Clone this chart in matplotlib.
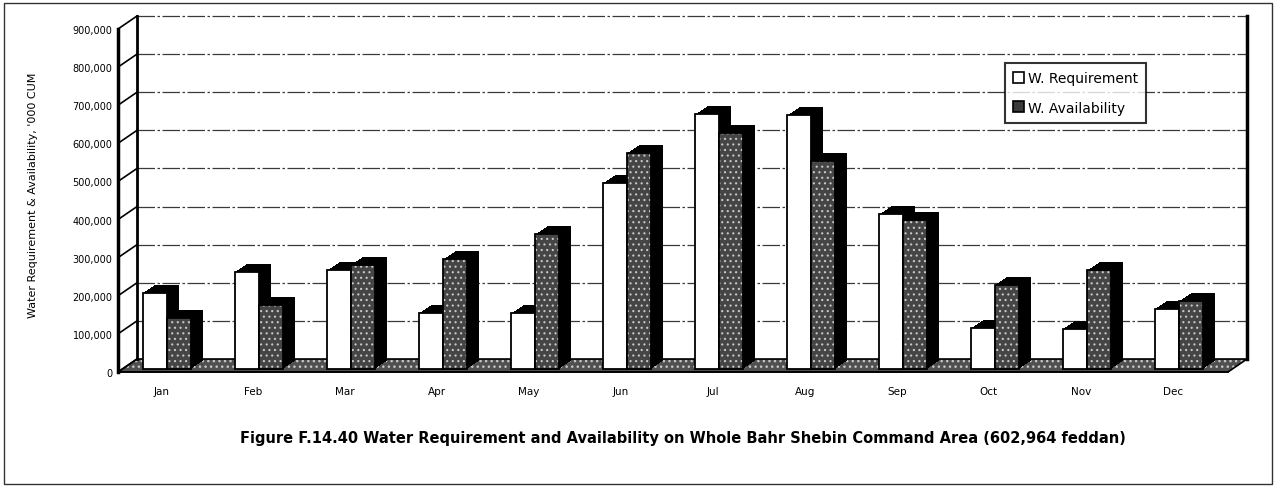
import numpy as np
import matplotlib
matplotlib.use('Agg')
import matplotlib.pyplot as plt
from matplotlib.transforms import ScaledTranslation, IdentityTransform
from matplotlib.patches import Patch, Polygon, Rectangle
from matplotlib.lines import Line2D

# data ('000 CUM)
months = ['Jan', 'Feb', 'Mar', 'Apr', 'May', 'Jun', 'Jul', 'Aug', 'Sep', 'Oct', 'Nov', 'Dec']
requirement = [200000, 255000, 259000, 147000, 146000, 488000, 668000, 666000, 406000, 108000, 106000, 158000]
availability = [135000, 167000, 274000, 288000, 353000, 567000, 620000, 546000, 390000, 221000, 259000, 178000]
yticks = np.arange(0, 900001, 100000)

caption = 'Figure F.14.40 Water Requirement and Availability on Whole Bahr Shebin Command Area (602,964 feddan)'
ylabel = "Water Requirement & Availability, '000 CUM"

W, H = 1277, 489
fig = plt.figure(figsize=(W / 100, H / 100), dpi=100)
ax = fig.add_axes([118 / W, (H - 373) / H, (1228 - 118) / W, 343 / H])
x0, x1 = -0.47, 11.6
ax.set_xlim(x0, x1)
ax.set_ylim(0, 900000)


def shift(dx, dy):
    # data transform moved by a few pixels (fake 3D depth)
    return ax.transData + ScaledTranslation(dx / fig.dpi, dy / fig.dpi, fig.dpi_scale_trans)


DX, DY = 19, 13  # floor / wall depth in px
back = shift(DX, DY)

# back wall gridlines
ax.hlines(yticks[1:], x0, x1, transform=back, colors='#3a3a3a', lw=0.9,
          linestyles=(0, (14, 2, 2, 2)), zorder=1, clip_on=False)
ax.plot([x0, x0], [0, 900000], transform=back, color='black', lw=2, zorder=1, clip_on=False)
ax.plot([x1, x1], [0, 900000], transform=back, color='black', lw=2.5, zorder=1, clip_on=False)

# left wall diagonals at each tick
for v in yticks:
    p = ax.transData.transform((x0, v))
    ax.add_line(Line2D([p[0], p[0] + DX], [p[1], p[1] + DY], transform=IdentityTransform(),
                       color='black', lw=1.2, clip_on=False, zorder=1))

# floor
f0 = ax.transData.transform((x0, 0))
f1 = ax.transData.transform((x1, 0))
floor_pts = [f0, f1, f1 + [DX, DY], f0 + [DX, DY]]
ax.add_patch(Polygon(floor_pts, closed=True, transform=IdentityTransform(), facecolor='#505050',
                     edgecolor='#c8c8c8', hatch='...', lw=0, clip_on=False, zorder=0.5))
ax.add_patch(Polygon(floor_pts, closed=True, transform=IdentityTransform(), fill=False,
                     edgecolor='black', lw=1.2, clip_on=False, zorder=0.6))

# bars with 3D depth
x = np.arange(len(months))
bw = 0.26
fx, fy = 6, 3
plt.rcParams['hatch.linewidth'] = 0.8
for k in range(12, 0, -1):
    ax.bar(x - bw / 2, requirement, bw, color='black', lw=0,
           transform=shift(fx + k, fy + k * 0.667), zorder=2)
ax.bar(x - bw / 2, requirement, bw, facecolor='white', edgecolor='black', lw=1.3,
       transform=shift(fx, fy), zorder=3)
for k in range(12, 0, -1):
    ax.bar(x + bw / 2, availability, bw, color='black', lw=0,
           transform=shift(fx + k, fy + k * 0.667), zorder=4)
ax.bar(x + bw / 2, availability, bw, facecolor='#454545', edgecolor='#c8c8c8', hatch='...',
       lw=0, transform=shift(fx, fy), zorder=5)
ax.bar(x + bw / 2, availability, bw, fill=False, edgecolor='black', lw=1.3,
       transform=shift(fx, fy), zorder=5.5)

ax.set_xlim(x0, x1)
ax.set_ylim(0, 900000)

# axes styling
for s in ['top', 'right']:
    ax.spines[s].set_visible(False)
ax.spines['left'].set_linewidth(2.5)
ax.spines['bottom'].set_linewidth(1.2)
ax.set_facecolor('none')
ax.set_yticks(yticks)
ax.set_yticklabels([f'{v:,}' for v in yticks], fontsize=7)
ax.set_xticks(x)
ax.set_xticklabels(months, fontsize=7.5)
ax.tick_params(axis='y', length=0, pad=4)
ax.tick_params(axis='x', length=0, pad=10)

fig.text(33 / W, 1 - 195 / H, ylabel, rotation=90, ha='center', va='center', fontsize=8)

leg = fig.legend([Patch(facecolor='white', edgecolor='black', lw=1.2),
                  Patch(facecolor='#3a3a3a', edgecolor='black', lw=1.2)],
                 ['W. Requirement', 'W. Availability'], loc='upper left',
                 bbox_to_anchor=(1005 / W, 1 - 64 / H), frameon=True, fancybox=False,
                 edgecolor='black', fontsize=10, handlelength=0.8, handleheight=0.8,
                 handletextpad=0.25, labelspacing=1.1, borderpad=0.6, borderaxespad=0)
leg.get_frame().set_linewidth(1.5)

fig.text(683 / W, 1 - 438 / H, caption, ha='center', va='center', fontsize=10.5, fontweight='bold')

# outer frame
fig.add_artist(Rectangle((4 / W, 4 / H), (1272 - 4) / W, (485 - 4) / H, transform=fig.transFigure,
                         fill=False, edgecolor='#333333', lw=1))

fig.savefig('out.png', dpi=100)
